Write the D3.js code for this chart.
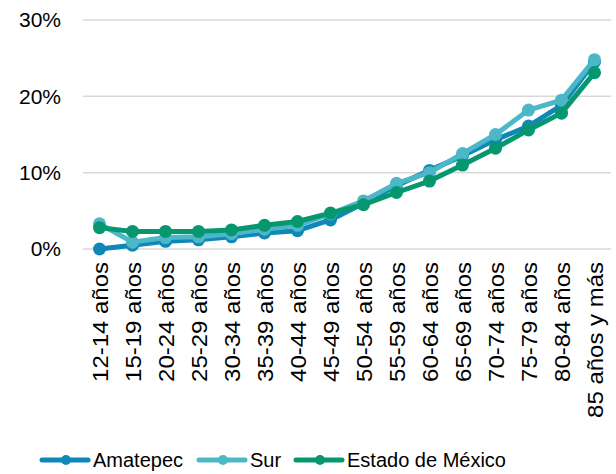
<!DOCTYPE html>
<html>
<head>
<meta charset="utf-8">
<script src="https://cdn.jsdelivr.net/npm/d3@7/dist/d3.min.js"></script>
<style>
  html, body { margin: 0; padding: 0; background: #fff; }
  svg { display: block; font-family: "Liberation Sans", Arial, sans-serif; }
</style>
</head>
<body>
<svg id="chart" width="616" height="474"></svg>
<script>
// Age groups
const categories = ["12-14 años","15-19 años","20-24 años","25-29 años","30-34 años","35-39 años",
  "40-44 años","45-49 años","50-54 años","55-59 años","60-64 años","65-69 años","70-74 años",
  "75-79 años","80-84 años","85 años y más"];

// Share of population (%) per age group
const amatepec = [0.0, 0.5, 1.0, 1.2, 1.6, 2.1, 2.4, 3.8, 6.0, 8.3, 10.3, 12.2, 14.3, 16.1, 18.8, 24.5];
const sur      = [3.3, 0.9, 1.5, 1.6, 2.0, 2.6, 3.1, 4.6, 6.3, 8.6, 10.0, 12.5, 15.0, 18.2, 19.5, 24.8];
const estado   = [2.8, 2.3, 2.3, 2.3, 2.5, 3.1, 3.6, 4.7, 5.8, 7.4, 8.9, 11.0, 13.2, 15.6, 17.8, 23.1];

const yTicks = [0, 10, 20, 30];
const seriesNames = ["Amatepec", "Sur", "Estado de México"];
const colors = ["#1088b7", "#4cb7c7", "#06976f"];

const svg = d3.select("#chart");
const plotLeft = 83, plotRight = 611, plotTop = 20, plotBottom = 249;

const x = d3.scalePoint().domain(categories).range([plotLeft, plotRight]).padding(0.5);
const y = d3.scaleLinear().domain([0, 30]).range([plotBottom, plotTop]);

// Gridlines
svg.append("g").selectAll("line").data(yTicks).join("line")
  .attr("x1", plotLeft).attr("x2", plotRight)
  .attr("y1", d => y(d)).attr("y2", d => y(d))
  .attr("stroke", "#d9d9d9").attr("stroke-width", 1.5);

// Y axis labels
const yAxis = d3.axisLeft(y).tickValues(yTicks).tickFormat(d => d + "%").tickSize(0).tickPadding(0);
const yg = svg.append("g").attr("transform", `translate(${plotLeft - 22},0)`).call(yAxis);
yg.select(".domain").remove();
yg.selectAll("text").attr("font-size", 21).attr("fill", "#000")
  .attr("font-family", "'Liberation Sans', Arial, sans-serif");

// X axis labels (rotated, slightly widened along the reading direction)
const xAxis = d3.axisBottom(x).tickSize(0).tickPadding(0);
const xg = svg.append("g").attr("transform", `translate(0,${plotBottom + 13})`).call(xAxis);
xg.select(".domain").remove();
xg.selectAll("text")
  .attr("font-size", 22).attr("fill", "#000")
  .attr("font-family", "'Liberation Sans', Arial, sans-serif")
  .attr("text-anchor", "end")
  .attr("transform", "rotate(-90) scale(1.09,1)")
  .attr("x", 0).attr("y", 0).attr("dy", "0.35em");

// Lines and markers
const series = [amatepec, sur, estado];
const line = d3.line().x((d, i) => x(categories[i])).y(d => y(d));
series.forEach((vals, s) => {
  const g = svg.append("g");
  g.append("path").datum(vals)
    .attr("d", line).attr("fill", "none")
    .attr("stroke", colors[s]).attr("stroke-width", 5)
    .attr("stroke-linejoin", "round").attr("stroke-linecap", "round");
  g.selectAll("circle").data(vals).join("circle")
    .attr("cx", (d, i) => x(categories[i])).attr("cy", d => y(d))
    .attr("r", 6.5).attr("fill", colors[s]);
});

// Legend
const legendX = [42, 199, 296];
const legend = svg.append("g").attr("transform", "translate(0,460)");
seriesNames.forEach((name, i) => {
  const g = legend.append("g").attr("transform", `translate(${legendX[i]},0)`);
  g.append("line").attr("x1", 0).attr("x2", 46).attr("y1", 0).attr("y2", 0)
    .attr("stroke", colors[i]).attr("stroke-width", 5).attr("stroke-linecap", "round");
  g.append("circle").attr("cx", 24).attr("cy", 0).attr("r", 5).attr("fill", colors[i]);
  g.append("text").attr("x", 51).attr("y", 0).attr("dy", "0.35em")
    .attr("font-size", 20).attr("fill", "#000").text(name);
});
</script>
</body>
</html>
